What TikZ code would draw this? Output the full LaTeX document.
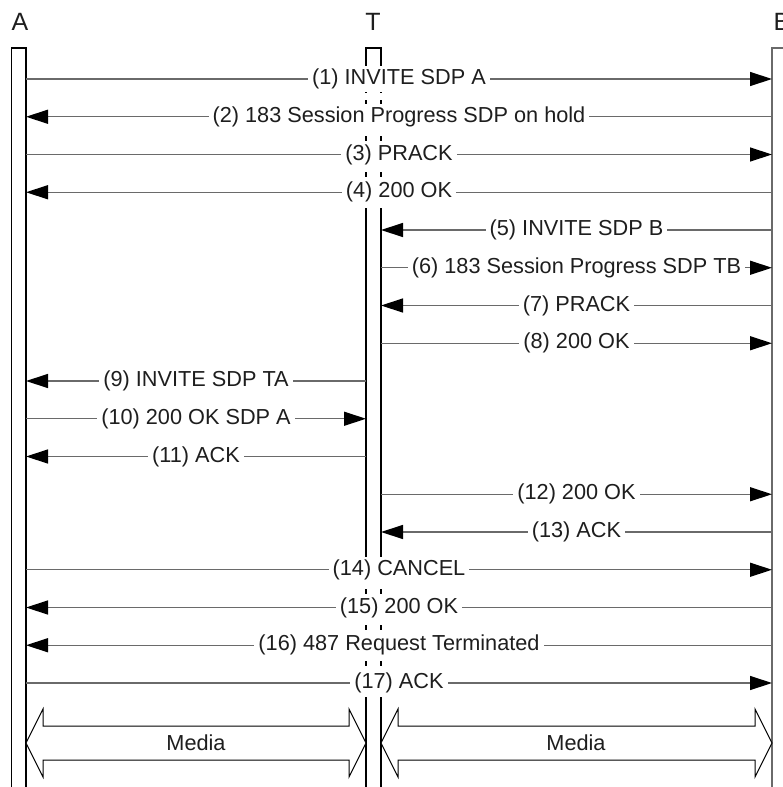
\documentclass[tikz,border=0pt]{standalone}
\usepackage{fontspec}
\setmainfont{Liberation Sans}
\usetikzlibrary{arrows.meta,calc}
\definecolor{msggray}{HTML}{6A6A6A}
\definecolor{textgray}{HTML}{1E1E1E}
\begin{document}
\begin{tikzpicture}[x=1pt,y=-1pt,
  lifeline/.style={draw=black,line width=1.2pt},
  lifelineB/.style={draw=msggray,line width=1.4pt},
  dashline/.style={draw=black,line width=1.2pt,dash pattern=on 5pt off 7pt},
  msgline/.style={draw=msggray,line width=1.3pt,-{Triangle[length=22pt,width=14pt,fill=black,color=black]}},
  msglabel/.style={fill=white,draw=none,inner xsep=4pt,inner ysep=3pt,text=textgray,font=\fontsize{21.7}{26}\selectfont},
  header/.style={text=textgray,inner sep=0pt,font=\fontsize{25}{30}\selectfont},
  media/.style={draw=black,line width=1pt,fill=white},
  medialabel/.style={text=textgray,inner sep=0pt,font=\fontsize{21.7}{26}\selectfont},
]
\useasboundingbox (0,0) rectangle (783,787);
\begin{scope}
\clip (0,0) rectangle (783,787);
% headers
\node[header] (hA) at (20,22) {A};
\node[header] (hT) at (373,22) {T};
\node[header] (hB) at (782,22) {B};
% lifeline A
\draw[lifeline] (11.5,800) -- (11.5,48) -- (26,48) -- (26,800);
% lifeline B
\draw[lifelineB] (772,800) -- (772,48) -- (790,48);
% lifeline T
\draw[lifeline] (366,64) -- (366,48) -- (381,48) -- (381,64);
\draw[dashline] (366,64) -- (366,208);
\draw[dashline] (381,64) -- (381,208);
\draw[lifeline] (366,208) -- (366,553);
\draw[lifeline] (381,208) -- (381,553);
\draw[dashline] (366,553) -- (366,697);
\draw[dashline] (381,553) -- (381,697);
\draw[lifeline] (366,697) -- (366,800);
\draw[lifeline] (381,697) -- (381,800);
% messages
\foreach \i/\fx/\tx in {
  1/26/772, 2/772/26, 3/26/772, 4/772/26,
  5/772/381, 6/381/772, 7/772/381, 8/381/772,
  9/366/26, 10/26/366, 11/366/26,
  12/381/772, 13/772/381,
  14/26/772, 15/772/26, 16/772/26, 17/26/772} {
  \pgfmathsetmacro\yy{79+37.75*(\i-1)}
  \coordinate (s\i) at (\fx,\yy);
  \coordinate (e\i) at (\tx,\yy);
  \draw[msgline] (s\i) -- (e\i);
}
% message labels (drawn last so they cover the lines)
\foreach \i/\lab in {
  1/{(1) INVITE SDP A},
  2/{(2) 183 Session Progress SDP on hold},
  3/{(3) PRACK},
  4/{(4) 200 OK},
  5/{(5) INVITE SDP B},
  6/{(6) 183 Session Progress SDP TB},
  7/{(7) PRACK},
  8/{(8) 200 OK},
  9/{(9) INVITE SDP TA},
  10/{(10) 200 OK SDP A},
  11/{(11) ACK},
  12/{(12) 200 OK},
  13/{(13) ACK},
  14/{(14) CANCEL},
  15/{(15) 200 OK},
  16/{(16) 487 Request Terminated},
  17/{(17) ACK}} {
  \node[msglabel] (l\i) at ($(s\i)!0.5!(e\i)$) {\lab};
}
% media arrows
\draw[media] (26,743) -- (43,709) -- (43,726) -- (349,726) -- (349,709) -- (366,743)
  -- (349,777) -- (349,760) -- (43,760) -- (43,777) -- cycle;
\node[medialabel] (media1) at (196,743) {Media};
\draw[media] (381,743) -- (398,709) -- (398,726) -- (755,726) -- (755,709) -- (772,743)
  -- (755,777) -- (755,760) -- (398,760) -- (398,777) -- cycle;
\node[medialabel] (media2) at (576,743) {Media};
\end{scope}
\end{tikzpicture}
\end{document}
